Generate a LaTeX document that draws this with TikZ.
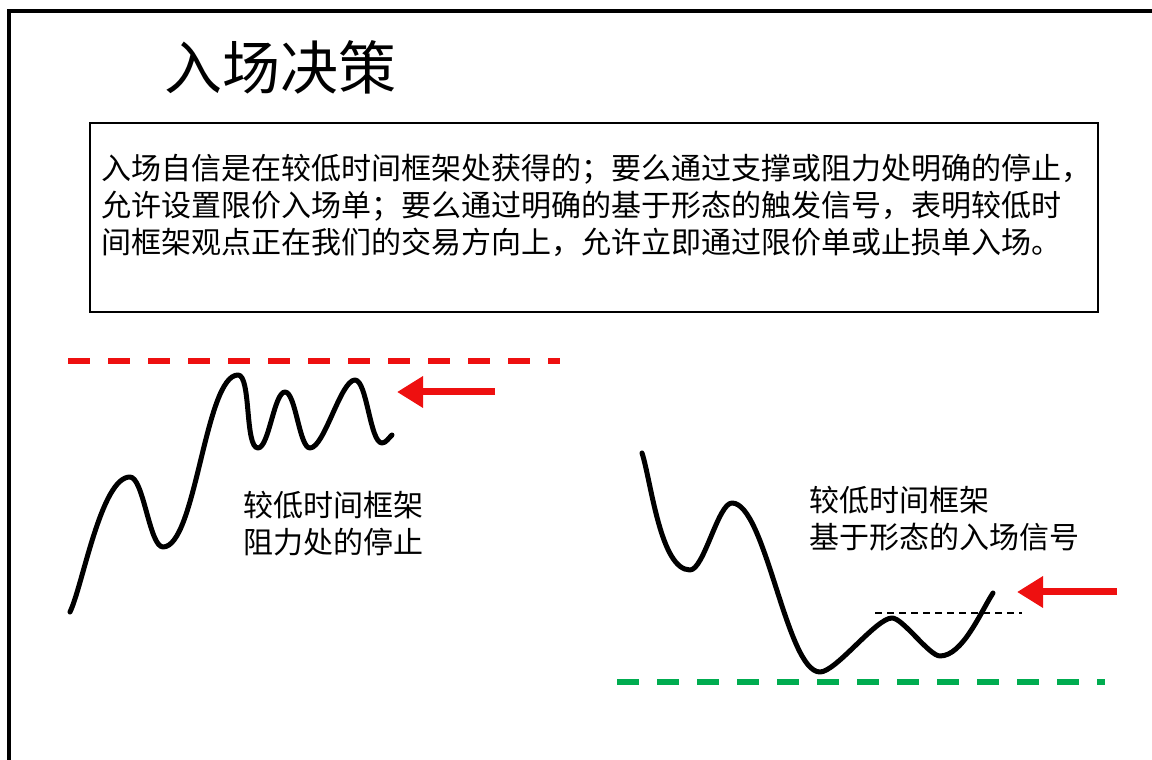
\documentclass[tikz,border=0pt]{standalone}
\usepackage{fontspec}
\usepackage{tikz}
\usetikzlibrary{arrows.meta}
\newfontfamily\cjk{Noto Sans CJK SC}
\definecolor{lvlred}{RGB}{238,16,16}
\definecolor{lvlgreen}{RGB}{0,172,80}

\begin{document}
\begin{tikzpicture}[x=1pt,y=1pt,>=stealth,
		curve/.style={line width=5pt,line cap=round,line join=round},
		wave/.style={out=0,in=180,looseness=0.45},
		level/.style={line width=6pt,dash pattern=on 22pt off 18pt},
		signal/.style={lvlred,line width=7pt,-{Triangle[length=26pt,width=30pt]}},
		note/.style={font=\cjk\fontsize{30}{37}\selectfont,align=left,anchor=west,inner sep=0pt}]
	\useasboundingbox (0,0) rectangle (1152,760);
	\draw[line width=4pt] (1152,749) -- (9,749) -- (9,0);
	
	\node[font=\cjk\fontsize{58}{60}\selectfont] (title) at (280,693) {入场决策};
	\draw[line width=2.5pt] (90,637) rectangle (1098,448);
	\node[note] (desc) at (101,555) {入场自信是在较低时间框架处获得的；要么通过支撑或阻力处明确的停止，\\
		允许设置限价入场单；要么通过明确的基于形态的触发信号，表明较低时\\
		间框架观点正在我们的交易方向上，允许立即通过限价单或止损单入场。};
	
	% resistance side
	\coordinate (r0) at (68,399);
	\coordinate (r1) at (560,399);
	\draw[level,lvlred] (r0) -- (r1);
	\foreach \P [count=\i] in {(70,148),(130,283),(163,213),(238,385),(258,312),(285,368),(310,312),(355,380),(382,317),(392,325)}
	{\path \P coordinate (l\i);}
	\draw[curve] (l1) to[out=64,in=180,looseness=0.5] (l2) to[wave] (l3) to[wave] (l4) to[wave] (l5)
		to[wave] (l6) to[wave] (l7) to[wave] (l8) to[wave] (l9) to[out=0,in=220,looseness=0.8] (l10);
	\coordinate (a0) at (495,368);
	\coordinate (a1) at (397,368);
	\draw[signal] (a0) -- (a1);
	\node[note] (stop) at (243,236) {较低时间框架\\阻力处的停止};
	
	% support side
	\coordinate (s0) at (617,78);
	\coordinate (s1) at (1105,78);
	\draw[level,lvlgreen] (s0) -- (s1);
	\foreach \P [count=\i] in {(642,307),(690,190),(732,257),(820,88),(892,142),(940,104),(993,167)}
	{\path \P coordinate (m\i);}
	\draw[curve] (m1) to[out=-72,in=180,looseness=0.6] (m2) to[wave] (m3) to[wave] (m4) to[wave] (m5)
		to[wave] (m6) to[out=0,in=237,looseness=0.7] (m7);
	\coordinate (t0) at (875,147);
	\coordinate (t1) at (1022,147);
	\draw[line width=1.8pt,dash pattern=on 7pt off 5pt] (t0) -- (t1);
	\coordinate (b0) at (1117,168);
	\coordinate (b1) at (1017,168);
	\draw[signal] (b0) -- (b1);
	\node[note] (entry) at (809,241) {较低时间框架\\基于形态的入场信号};
\end{tikzpicture}
\end{document}
